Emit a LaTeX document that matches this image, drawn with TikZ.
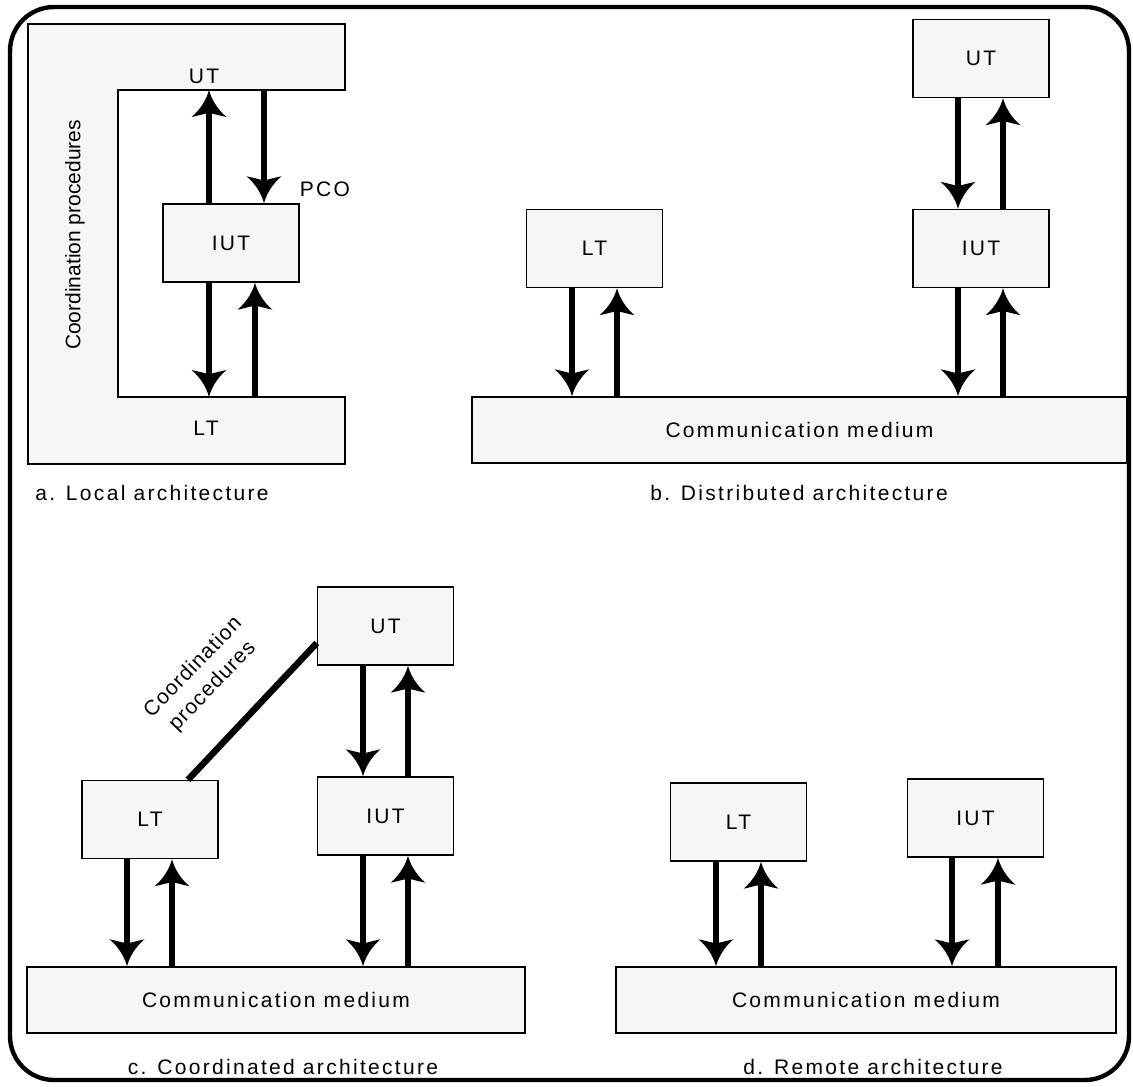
\documentclass[tikz,border=0pt]{standalone}
\usepackage{fontspec}
\setmainfont{Liberation Sans}
\newfontfamily\spc{Liberation Sans}[LetterSpace=11]
\newfontfamily\spcb{Liberation Sans}[LetterSpace=5]
\usetikzlibrary{arrows.meta,calc}

% Spear-shaped arrow tip with concave flanks
\pgfdeclarearrow{
  name = Spear,
  defaults = {length = 13pt, width = 17pt},
  setup code = {
    \pgfarrowssettipend{0pt}
    \pgfarrowssetbackend{-\pgfarrowlength}
    \pgfarrowssetlineend{-.7\pgfarrowlength}
    \pgfarrowssavethe\pgfarrowlength
    \pgfarrowssavethe\pgfarrowwidth
  },
  drawing code = {
    \pgfpathmoveto{\pgfpointorigin}
    \pgfpathcurveto{\pgfpoint{-.3\pgfarrowlength}{.06\pgfarrowwidth}}{\pgfpoint{-.7\pgfarrowlength}{.22\pgfarrowwidth}}{\pgfpoint{-\pgfarrowlength}{.5\pgfarrowwidth}}
    \pgfpathcurveto{\pgfpoint{-.93\pgfarrowlength}{.25\pgfarrowwidth}}{\pgfpoint{-.87\pgfarrowlength}{.1\pgfarrowwidth}}{\pgfpoint{-.85\pgfarrowlength}{0pt}}
    \pgfpathcurveto{\pgfpoint{-.87\pgfarrowlength}{-.1\pgfarrowwidth}}{\pgfpoint{-.93\pgfarrowlength}{-.25\pgfarrowwidth}}{\pgfpoint{-\pgfarrowlength}{-.5\pgfarrowwidth}}
    \pgfpathcurveto{\pgfpoint{-.7\pgfarrowlength}{-.22\pgfarrowwidth}}{\pgfpoint{-.3\pgfarrowlength}{-.06\pgfarrowwidth}}{\pgfpointorigin}
    \pgfpathclose
    \pgfusepathqfill
  },
  parameters = {\the\pgfarrowlength,\the\pgfarrowwidth}
}

\definecolor{boxfill}{gray}{0.965}

\tikzset{
  txt/.style={font=\spc\fontsize{10.5}{12}\selectfont, inner sep=0pt},
  box/.style={txt, draw=black, line width=0.7pt, fill=boxfill,
              minimum width=68pt, minimum height=39pt},
  medium/.style={box, minimum height=33pt},
  shell/.style={draw=black, line width=0.7pt, fill=boxfill},
  flow/.style={line width=3.25pt, -{Spear[length=13.5pt,width=17.5pt]}},
  link/.style={line width=3.25pt},
  frame/.style={line width=2.2pt, rounded corners=22pt}
}

% downward / upward flow between two stacked nodes, offset dx from centre
\newcommand\dnflow[3]{%
  \coordinate (fx) at ($(#1.south)+(#3,0)$);
  \draw[flow] (fx) -- (fx |- #2.north);}
\newcommand\upflow[3]{%
  \coordinate (fx) at ($(#1.south)+(#3,0)$);
  \draw[flow] (fx |- #2.north) -- (fx);}

\begin{document}
\begin{tikzpicture}[x=0.5pt,y=-0.5pt]
\useasboundingbox (0,0) rectangle (1133,1086);

% outer frame
\draw[frame] (10,7) rectangle (1129,1080);

% ---------- a. Local architecture ----------
\coordinate (aUTin) at (118,90);
\coordinate (aLTin) at (118,397);
\draw[shell] (28,24) -- (345,24) -- (345,90) -- (aUTin) -- (aLTin)
  -- (345,397) -- (345,464) -- (28,464) -- cycle;
\node[txt] (aUT) at (204,76) {UT};
\node[txt] (aLT) at (206,428) {LT};
\node[box] (aIUT) at (231,243) {IUT};
\node[txt] (aPCO) at (325,189) {PCO};
\node[font=\fontsize{10.5}{12}\selectfont, inner sep=0pt, rotate=90]
  (aCoord) at (75,235) {Coordination procedures};

\coordinate (fx) at ($(aIUT.north)+(-22,0)$);
\draw[flow] (fx) -- (fx |- aUTin);
\coordinate (fx) at ($(aIUT.north)+(33,0)$);
\draw[flow] (fx |- aUTin) -- (fx);
\coordinate (fx) at ($(aIUT.south)+(-22,0)$);
\draw[flow] (fx) -- (fx |- aLTin);
\coordinate (fx) at ($(aIUT.south)+(24,0)$);
\draw[flow] (fx |- aLTin) -- (fx);

\node[txt] (aCap) at (152,493) {a. Local architecture};

% ---------- b. Distributed architecture ----------
\node[box] (bUT) at (981,58.5) {UT};
\node[box] (bIUT) at (981,248.5) {IUT};
\node[box] (bLT) at (594.5,248.5) {LT};
\node[medium, minimum width=327.5pt] (bMed) at (799.5,430) {Communication medium};

\dnflow{bUT}{bIUT}{-23}
\upflow{bUT}{bIUT}{22}
\dnflow{bIUT}{bMed}{-23}
\upflow{bIUT}{bMed}{22}
\dnflow{bLT}{bMed}{-22.5}
\upflow{bLT}{bMed}{22.5}

\node[txt] (bCap) at (799,493) {b. Distributed architecture};

% ---------- c. Coordinated architecture ----------
\node[box] (cUT) at (385.5,626) {UT};
\node[box] (cIUT) at (385.5,816) {IUT};
\node[box] (cLT) at (150,819.5) {LT};
\node[medium, minimum width=249pt] (cMed) at (276,1000) {Communication medium};

\dnflow{cUT}{cIUT}{-22.5}
\upflow{cUT}{cIUT}{22.5}
\dnflow{cIUT}{cMed}{-22.5}
\upflow{cIUT}{cMed}{22.5}
\dnflow{cLT}{cMed}{-23}
\upflow{cLT}{cMed}{22}

\draw[link] ($(cLT.north)+(38,0)$) -- ($(cUT.west)+(0,17)$);
\node[font=\spcb\fontsize{10.5}{13.5}\selectfont, inner sep=0pt, align=center, rotate=46]
  (cCoord) at (203,677) {Coordination\\procedures};

\node[txt] (cCap) at (283,1067) {c. Coordinated architecture};

% ---------- d. Remote architecture ----------
\node[box] (dLT) at (738.5,822) {LT};
\node[box] (dIUT) at (975.5,818) {IUT};
\node[medium, minimum width=250pt] (dMed) at (866,1000) {Communication medium};

\dnflow{dLT}{dMed}{-22.5}
\upflow{dLT}{dMed}{22.5}
\dnflow{dIUT}{dMed}{-23.5}
\upflow{dIUT}{dMed}{22.5}

\node[txt] (dCap) at (873,1067) {d. Remote architecture};
\end{tikzpicture}
\end{document}
